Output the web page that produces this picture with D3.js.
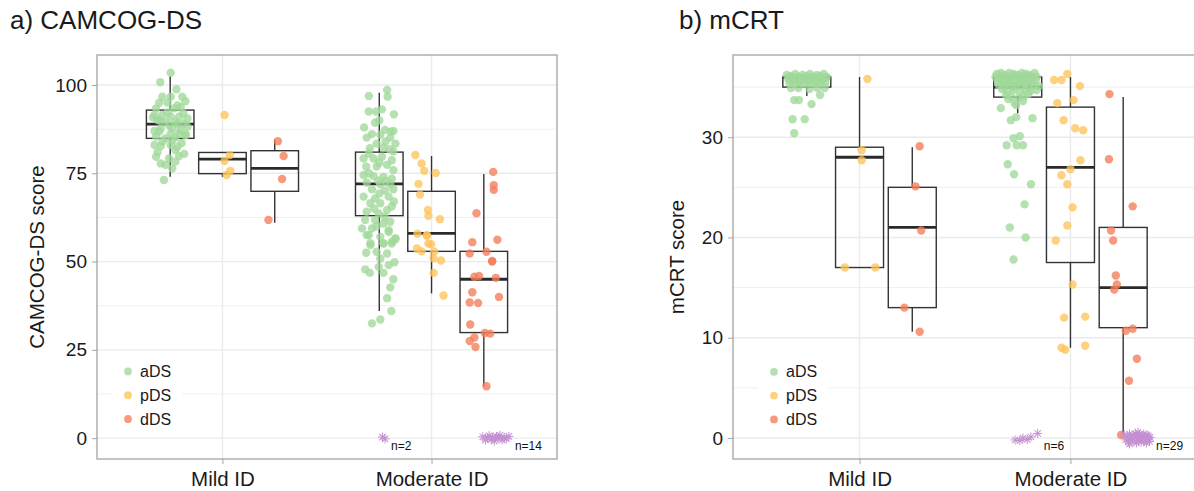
<!DOCTYPE html>
<html>
<head>
<meta charset="utf-8">
<script src="https://cdn.jsdelivr.net/npm/d3@7"></script>
<style>
  body { margin: 0; background: #fff; }
  svg { display: block; font-family: 'Liberation Sans', Arial, sans-serif; }
  .grid line { stroke: #ebebeb; }
  .axis path { display: none; }
  .axis line { stroke: #a6a6a6; }
  .axis text { fill: #1a1a1a; }
</style>
</head>
<body>
<div id="chart"></div>
<script>
const idLevels = ['Mild ID', 'Moderate ID'];
const dsGroups = ['aDS', 'pDS', 'dDS'];

const camcogTicks = [0, 25, 50, 75, 100];
const camcogMinor = [12.5, 37.5, 62.5, 87.5];
const mcrtTicks = [0, 10, 20, 30];
const mcrtMinor = [5, 15, 25, 35];

// [lower whisker, q1, median, q3, upper whisker] — Mild aDS/pDS/dDS, Moderate aDS/pDS/dDS
const camcogBoxes = [
    [74, 84.9, 88.9, 92.9, 102.5],
    [74, 74.9, 79, 80.9, 80.9],
    [61, 69.9, 76.4, 81.4, 84.6],
    [36, 63, 72, 81, 97.8],
    [41, 52.9, 58, 69.9, 79.9],
    [14.7, 29.9, 45, 52.9, 74.8]
];
const mcrtBoxes = [
    [34.1, 35, 36, 36, 36],
    [17, 17, 28, 29, 36],
    [10.6, 13, 21, 25, 29],
    [32.4, 34, 35, 36, 36],
    [9, 17.5, 27, 33, 36],
    [0.5, 11, 15, 21, 34]
];

// points: [score, horizontal jitter]
const camcogMildA = [
    [103.5, 0.01], [100.8, -0.19], [98.8, 0.12], [96.7, -0.15], [96.7, 0.01], [96.7, 0.23],
    [95.0, -0.21], [95.0, -0.05], [95.4, 0.29], [93.4, -0.27], [93.4, 0.07], [93.7, 0.2],
    [91.5, -0.3], [91.5, -0.15], [91.0, 0.01], [91.0, 0.17], [90.5, 0.33], [90.1, -0.24],
    [89.6, -0.09], [89.6, 0.1], [89.1, 0.26], [87.7, -0.18], [87.7, 0.04], [87.2, 0.2],
    [88.2, 0.33], [86.8, -0.21], [86.3, 0.01], [86.3, 0.17], [85.4, -0.27], [84.9, -0.09],
    [85.2, 0.1], [85.8, 0.29], [84.4, 0.04], [83.0, -0.3], [82.7, -0.18], [83.0, 0.01],
    [82.5, 0.14], [81.6, 0.1], [79.7, -0.27], [79.2, -0.02], [79.9, 0.17], [77.8, -0.18],
    [77.4, -0.09], [76.4, 0.04], [78.3, 0.1], [73.1, -0.12], [92.2, -0.05], [92.0, 0.25],
    [90.8, -0.33], [88.6, -0.02], [88.9, 0.14], [87.0, -0.3], [86.0, 0.3], [84.0, -0.15],
    [83.6, 0.22], [94.2, 0.14], [89.9, -0.19], [81.0, -0.24], [80.5, 0.27]
];
const camcogMildP = [[91.5, 0.04], [80.2, 0.14], [78.5, 0.04], [75.7, 0.15], [74.5, 0.08]];
const camcogMildD = [[84.1, 0.06], [79.9, 0.17], [73.4, 0.14], [61.8, -0.12]];
const camcogModA = [
    [98.6, 0.15], [96.7, 0.16], [96.9, -0.2], [93.1, 0.05], [92.5, -0.2], [92.5, -0.06],
    [91.7, 0.28], [89.3, -0.08], [88.0, -0.29], [87.3, 0.11], [87.0, 0.27], [86.1, -0.14],
    [85.9, 0.02], [85.1, -0.24], [85.1, 0.21], [83.4, 0.31], [83.4, -0.05], [82.1, -0.18],
    [82.3, 0.08], [81.2, 0.27], [79.2, -0.3], [79.2, -0.11], [79.7, 0.05], [78.7, 0.24],
    [76.9, -0.25], [76.9, -0.05], [77.4, 0.15], [75.9, 0.27], [74.5, -0.3], [74.2, -0.11],
    [74.0, 0.08], [73.5, 0.24], [72.4, -0.24], [71.9, 0.02], [71.9, 0.21], [70.5, -0.14],
    [70.1, 0.11], [70.5, 0.27], [68.4, -0.3], [67.9, -0.08], [68.4, 0.18], [66.5, -0.17],
    [66.5, 0.02], [65.6, 0.24], [64.1, -0.24], [63.6, -0.01], [64.6, 0.15], [61.8, -0.27],
    [61.8, -0.08], [60.8, 0.08], [61.3, 0.21], [59.4, -0.33], [59.4, -0.14], [58.9, 0.18],
    [57.5, -0.24], [57.0, 0.02], [56.6, 0.31], [55.2, -0.17], [55.2, 0.08], [55.6, 0.24],
    [57.5, -0.2], [58.4, 0.18], [56.3, 0.31], [54.7, -0.17], [55.1, 0.08], [55.1, 0.24],
    [52.5, -0.25], [52.8, -0.05], [52.3, 0.15], [50.9, 0.02], [49.0, 0.18], [49.8, 0.29],
    [47.8, -0.27], [46.8, -0.18], [48.5, -0.01], [46.8, 0.08], [45.0, 0.27], [42.7, 0.21],
    [39.6, 0.15], [36.0, 0.23], [32.5, -0.14], [33.6, 0.02], [84.0, 0.12], [80.6, -0.2],
    [78.0, 0.0], [75.0, -0.2], [72.8, 0.12], [69.3, 0.0], [67.0, 0.28], [62.7, 0.1],
    [60.0, -0.05], [86.8, 0.22], [90.0, 0.0], [81.8, 0.2], [65.0, -0.1], [73.0, -0.02]
];
const camcogModP = [
    [80.2, -0.31], [77.8, -0.19], [75.7, -0.14], [75.1, 0.08], [72.0, -0.25], [69.0, -0.22],
    [64.6, -0.07], [63.0, -0.06], [62.0, 0.16], [57.9, -0.27], [57.5, -0.09], [57.3, -0.09],
    [55.1, -0.06], [54.9, -0.01], [53.7, -0.28], [52.9, -0.19], [52.8, 0.05], [50.9, 0.04],
    [50.3, 0.18], [46.8, 0.04], [40.4, 0.23]
];
const camcogModD = [
    [75.4, 0.18], [71.6, 0.19], [70.3, 0.19], [63.7, -0.14], [55.5, -0.22], [56.2, 0.26],
    [52.3, -0.27], [52.8, 0.05], [50.2, 0.16], [50.0, 0.16], [45.7, -0.18], [45.9, -0.09],
    [45.4, 0.23], [41.3, -0.22], [38.4, -0.27], [38.3, -0.11], [40.0, 0.29], [32.2, -0.26],
    [29.8, 0.02], [29.6, 0.12], [28.5, -0.18], [27.5, -0.27], [25.8, -0.16], [14.7, 0.05]
];

const mcrtMildA = [
    [36.2, -0.38], [36.1, -0.3], [36.3, -0.22], [36.0, -0.15], [36.2, -0.08], [36.1, 0.0],
    [36.3, 0.06], [36.0, 0.12], [36.2, 0.19], [36.1, 0.26], [36.3, 0.32], [36.0, 0.38],
    [35.8, -0.35], [35.7, -0.27], [35.9, -0.2], [35.6, -0.12], [35.8, -0.04], [35.7, 0.03],
    [35.9, 0.09], [35.6, 0.16], [35.8, 0.23], [35.7, 0.3], [35.9, 0.36], [35.4, -0.33],
    [35.3, -0.24], [35.5, -0.16], [35.3, -0.06], [35.5, 0.02], [35.4, 0.1], [35.3, 0.18],
    [35.5, 0.27], [35.4, 0.35], [36.0, -0.33], [35.9, -0.1], [36.0, 0.22], [34.9, -0.3],
    [34.9, -0.16], [34.8, 0.05], [34.9, 0.2], [34.9, 0.34], [34.2, 0.25], [33.7, -0.24],
    [33.7, -0.15], [33.3, 0.09], [31.8, -0.27], [31.8, -0.04], [30.4, -0.24]
];
const mcrtMildP = [[35.8, 0.15], [28.7, 0.04], [27.7, 0.04], [17.0, -0.28], [17.0, 0.3]];
const mcrtMildD = [[29.1, 0.14], [25.1, 0.06], [20.7, 0.17], [13.0, -0.15], [10.6, 0.14]];
const mcrtModA = [
    [36.3, -0.4], [36.4, -0.32], [36.2, -0.24], [36.4, -0.16], [36.3, -0.08], [36.2, 0.0],
    [36.4, 0.08], [36.3, 0.16], [36.2, 0.24], [36.4, 0.32], [36.0, -0.42], [35.9, -0.34],
    [36.1, -0.27], [35.9, -0.2], [36.0, -0.12], [36.1, -0.04], [35.9, 0.04], [36.0, 0.12],
    [36.1, 0.2], [35.9, 0.28], [36.0, 0.36], [35.6, -0.38], [35.7, -0.3], [35.5, -0.22],
    [35.7, -0.14], [35.6, -0.06], [35.5, 0.02], [35.7, 0.1], [35.6, 0.18], [35.5, 0.26],
    [35.7, 0.34], [35.2, -0.36], [35.1, -0.26], [35.3, -0.18], [35.0, -0.1], [35.2, -0.02],
    [35.1, 0.06], [35.3, 0.14], [35.0, 0.22], [35.2, 0.3], [35.1, 0.4], [34.8, -0.3],
    [34.6, -0.2], [34.7, -0.08], [34.5, 0.04], [34.8, 0.14], [34.6, 0.24], [34.7, 0.36],
    [34.2, -0.22], [34.0, -0.12], [33.9, 0.02], [34.1, 0.12], [34.3, 0.2], [33.8, -0.18],
    [33.6, 0.1], [33.4, -0.06], [32.9, -0.32], [33.2, -0.03], [32.0, -0.03], [31.7, -0.13],
    [31.9, 0.28], [29.9, -0.08], [30.1, 0.04], [29.2, -0.21], [29.2, -0.02], [29.2, 0.1],
    [27.3, -0.19], [26.3, -0.07], [25.3, 0.25], [23.3, 0.13], [21.0, -0.15], [20.0, 0.15],
    [17.8, -0.08]
];
const mcrtModP = [
    [36.3, -0.06], [35.7, -0.31], [35.7, -0.17], [35.1, 0.18], [33.4, -0.25], [33.7, 0.06],
    [31.7, -0.13], [30.9, 0.09], [30.7, 0.24], [27.7, 0.19], [26.8, 0.0], [26.2, -0.17],
    [25.3, -0.06], [23.0, 0.04], [21.2, -0.06], [19.7, -0.28], [15.3, 0.04], [12.0, -0.12],
    [12.1, 0.28], [9.0, -0.17], [8.8, -0.1], [9.2, 0.28]
];
const mcrtModD = [
    [34.3, -0.26], [27.8, -0.27], [23.1, 0.18], [20.7, -0.23], [19.7, -0.19], [16.2, -0.14],
    [15.3, -0.12], [14.8, -0.17], [10.7, 0.05], [10.9, 0.18], [7.9, 0.26], [5.7, 0.11],
    [0.3, -0.04]
];

// floor scores (0): [jitter, score]
const camcogFloorModA = [[0.06, 0.3], [0.11, -0.2]];
const camcogFloorModD = [
    [-0.02, 0.4], [0.03, -0.5], [0.07, 0.1], [0.1, 0.7], [0.14, -0.3], [0.17, 0.3], [0.2, -0.8],
    [0.24, 0.5], [0.27, -0.1], [0.31, 0.8], [0.35, -0.5], [0.39, 0.2], [0.43, -0.2], [0.48, 0.5]
];
const mcrtFloorModA = [[-0.05, -0.2], [0.04, -0.25], [0.1, 0.0], [0.18, -0.15], [0.25, 0.1], [0.38, 0.45]];
const mcrtFloorModD = [
    [0.02, 0.3], [0.05, -0.2], [0.08, 0.1], [0.1, -0.4], [0.12, 0.4], [0.15, 0.0], [0.17, -0.3],
    [0.19, 0.25], [0.21, -0.1], [0.23, 0.45], [0.25, -0.5], [0.27, 0.15], [0.29, -0.25],
    [0.31, 0.35], [0.32, 0.0], [0.34, -0.4], [0.36, 0.2], [0.38, -0.15], [0.39, 0.4], [0.41, -0.3],
    [0.42, 0.1], [0.44, -0.5], [0.45, 0.3], [0.47, -0.1], [0.48, 0.2], [0.5, -0.35], [0.51, 0.05],
    [0.12, -0.6], [0.28, 0.55]
];
const camcogFloorLabels = ['n=2', 'n=14'];
const mcrtFloorLabels = ['n=6', 'n=29'];

const groupColors = { aDS: '#a0d99a', pDS: '#fec45a', dDS: '#f47c58' };
const starColor = '#c48fd2';

const svg = d3.select('#chart').append('svg')
    .attr('width', 1194)
    .attr('height', 491);

function drawPanel(cfg) {
    const g = svg.append('g')
        .attr('transform', `translate(${cfg.left},${cfg.top})`);

    const x = d3.scalePoint()
        .domain(idLevels)
        .range([0, cfg.width])
        .padding(0.6);

    const dodge = d3.scaleBand()
        .domain(dsGroups)
        .range([-0.375 * x.step(), 0.375 * x.step()]);

    const bw = dodge.bandwidth();
    const gx = (level, group) => x(level) + dodge(group) + bw / 2;

    const y = d3.scaleLinear()
        .domain(cfg.domain)
        .range([cfg.height, 0]);

    // grid
    const grid = g.append('g').attr('class', 'grid');
    grid.selectAll('.minor').data(cfg.minor)
        .enter().append('line')
        .attr('x1', 0).attr('x2', cfg.width)
        .attr('y1', d => y(d)).attr('y2', d => y(d))
        .attr('stroke-width', 0.8);
    grid.selectAll('.major').data(cfg.ticks)
        .enter().append('line')
        .attr('x1', 0).attr('x2', cfg.width)
        .attr('y1', d => y(d)).attr('y2', d => y(d))
        .attr('stroke-width', 1.4);
    grid.selectAll('.vmajor').data(idLevels)
        .enter().append('line')
        .attr('x1', d => x(d)).attr('x2', d => x(d))
        .attr('y1', 0).attr('y2', cfg.height)
        .attr('stroke-width', 1.4);

    // boxes
    const boxData = [];
    idLevels.forEach((lv, i) => dsGroups.forEach((gr, j) => {
        boxData.push({ level: lv, group: gr, s: cfg.boxes[i * 3 + j] });
    }));
    const boxW = bw * 0.91;
    const box = g.append('g').attr('class', 'boxes')
        .selectAll('.box').data(boxData)
        .enter().append('g')
        .attr('transform', d => `translate(${gx(d.level, d.group)},0)`);

    box.append('line')
        .attr('y1', d => y(d.s[0])).attr('y2', d => y(d.s[1]))
        .attr('stroke', '#333').attr('stroke-width', 1.4);
    box.append('line')
        .attr('y1', d => y(d.s[3])).attr('y2', d => y(d.s[4]))
        .attr('stroke', '#333').attr('stroke-width', 1.4);
    box.append('rect')
        .attr('x', -boxW / 2)
        .attr('width', boxW)
        .attr('y', d => y(d.s[3]))
        .attr('height', d => y(d.s[1]) - y(d.s[3]))
        .attr('fill', 'none')
        .attr('stroke', '#333')
        .attr('stroke-width', 1.4);
    box.append('line')
        .attr('x1', -boxW / 2).attr('x2', boxW / 2)
        .attr('y1', d => y(d.s[2])).attr('y2', d => y(d.s[2]))
        .attr('stroke', '#2a2a2a').attr('stroke-width', 2.8);

    // jittered points
    const pts = [];
    idLevels.forEach((lv, i) => dsGroups.forEach((gr, j) => {
        cfg.points[i][j].forEach(p => pts.push({ level: lv, group: gr, v: p[0], j: p[1] }));
    }));
    g.append('g').attr('class', 'points')
        .selectAll('circle').data(pts)
        .enter().append('circle')
        .attr('cx', d => gx(d.level, d.group) + d.j * bw)
        .attr('cy', d => y(d.v))
        .attr('r', 4.2)
        .attr('fill', d => groupColors[d.group])
        .attr('fill-opacity', 0.78);

    // floor stars
    const starG = g.append('g').attr('class', 'floor');
    cfg.floor.forEach((f, k) => {
        const cx0 = gx('Moderate ID', f.group);
        const star = starG.selectAll(`.star-${k}`).data(f.pts)
            .enter().append('g')
            .attr('transform', d => `translate(${cx0 + d[0] * bw},${y(d[1])})`);
        [0, 45, 90, 135].forEach(a => {
            star.append('line')
                .attr('x1', -4.5).attr('x2', 4.5)
                .attr('transform', `rotate(${a})`)
                .attr('stroke', starColor)
                .attr('stroke-width', 1);
        });
        const maxJ = d3.max(f.pts, d => d[0]);
        starG.append('text')
            .attr('x', cx0 + maxJ * bw + 6)
            .attr('y', y(0) + 12)
            .attr('font-size', 12)
            .attr('fill', '#111')
            .text(cfg.floorLabels[k]);
    });

    // panel border
    g.append('rect')
        .attr('width', cfg.width)
        .attr('height', cfg.height)
        .attr('fill', 'none')
        .attr('stroke', '#a3a3a3')
        .attr('stroke-width', 1.3);

    // axes
    g.append('g').attr('class', 'axis axis--y')
        .call(d3.axisLeft(y).tickValues(cfg.ticks).tickSize(5).tickPadding(5))
        .selectAll('text').attr('font-size', 19);

    g.append('g').attr('class', 'axis axis--x')
        .attr('transform', `translate(0,${cfg.height})`)
        .call(d3.axisBottom(x).tickSize(5).tickPadding(7))
        .selectAll('text').attr('font-size', 20.5);

    g.selectAll('.axis text').attr('font-family', null);

    // y title
    svg.append('text')
        .attr('transform', `translate(${cfg.yTitleX},${cfg.top + cfg.height / 2}) rotate(-90)`)
        .attr('text-anchor', 'middle')
        .attr('font-size', 20.5)
        .attr('fill', '#1a1a1a')
        .text(cfg.yTitle);

    // panel title
    svg.append('text')
        .attr('x', cfg.titleX)
        .attr('y', 29)
        .attr('font-size', 26)
        .attr('fill', '#1a1a1a')
        .text(cfg.title);

    // legend
    const legend = g.append('g').attr('class', 'legend')
        .attr('transform', `translate(${cfg.legendX},${y(cfg.legendY)})`);
    legend.append('rect')
        .attr('x', -16).attr('y', -14)
        .attr('width', 70).attr('height', 74)
        .attr('fill', '#fff');
    const item = legend.selectAll('.item').data(dsGroups)
        .enter().append('g')
        .attr('transform', (d, i) => `translate(0,${i * 23.8})`);
    item.append('circle')
        .attr('r', 3.9)
        .attr('fill', d => groupColors[d])
        .attr('fill-opacity', 0.78);
    item.append('text')
        .attr('x', 12)
        .attr('dy', '0.35em')
        .attr('font-size', 16)
        .attr('fill', '#1a1a1a')
        .text(d => d);
}

drawPanel({
    left: 97, top: 55, width: 460, height: 404,
    domain: [-5.9, 108.5],
    ticks: camcogTicks, minor: camcogMinor,
    boxes: camcogBoxes,
    points: [[camcogMildA, camcogMildP, camcogMildD], [camcogModA, camcogModP, camcogModD]],
    floor: [{ group: 'aDS', pts: camcogFloorModA }, { group: 'dDS', pts: camcogFloorModD }],
    floorLabels: camcogFloorLabels,
    yTitle: 'CAMCOG-DS score', yTitleX: 44,
    title: 'a) CAMCOG-DS', titleX: 10,
    legendX: 31, legendY: 18.9
});

drawPanel({
    left: 733, top: 55, width: 464, height: 404,
    domain: [-2.1, 38.2],
    ticks: mcrtTicks, minor: mcrtMinor,
    boxes: mcrtBoxes,
    points: [[mcrtMildA, mcrtMildP, mcrtMildD], [mcrtModA, mcrtModP, mcrtModD]],
    floor: [{ group: 'aDS', pts: mcrtFloorModA }, { group: 'dDS', pts: mcrtFloorModD }],
    floorLabels: mcrtFloorLabels,
    yTitle: 'mCRT score', yTitleX: 684,
    title: 'b) mCRT', titleX: 679,
    legendX: 41, legendY: 6.6
});
</script>
</body>
</html>
